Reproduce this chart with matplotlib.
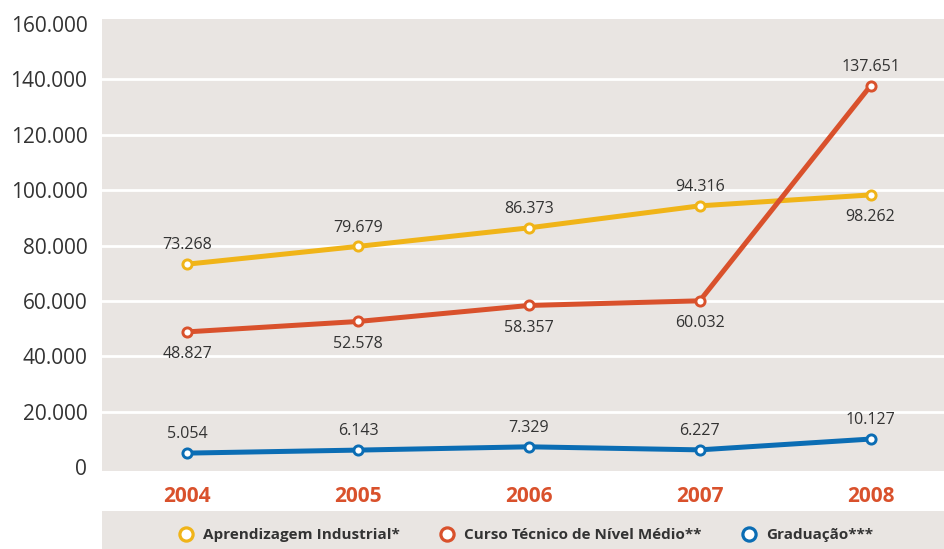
import matplotlib
matplotlib.use("Agg")
import matplotlib.pyplot as plt
from matplotlib.lines import Line2D
from matplotlib.patches import Rectangle
from matplotlib.ticker import FuncFormatter

years = [2004, 2005, 2006, 2007, 2008]
aprendizagem = [73268, 79679, 86373, 94316, 98262]
curso_tecnico = [48827, 52578, 58357, 60032, 137651]
graduacao = [5054, 6143, 7329, 6227, 10127]
series_names = ["Aprendizagem Industrial*", "Curso Técnico de Nível Médio**", "Graduação***"]
y_ticks = [0, 20000, 40000, 60000, 80000, 100000, 120000, 140000, 160000]

YELLOW = "#F0B418"
RED = "#D9512C"
BLUE = "#0B6DB4"
BG = "#E9E5E2"
TEXT = "#333333"

plt.rcParams["font.family"] = ["Open Sans", "DejaVu Sans"]


def fmt(v):
    return f"{v:,.0f}".replace(",", ".")


fig = plt.figure(figsize=(9.44, 5.49), dpi=100)
ax = fig.add_axes([0.108, 0.1426, 0.892, 0.8228])
ax.set_facecolor(BG)
for s in ax.spines.values():
    s.set_visible(False)

ax.set_xlim(2003.5, 2008.43)
ax.set_ylim(-1300, 161770)
ax.set_yticks(y_ticks)
ax.yaxis.set_major_formatter(FuncFormatter(lambda v, p: fmt(v)))
ax.set_xticks(years)
ax.set_xticklabels([str(y) for y in years])
ax.tick_params(axis="y", length=0, pad=10.5, labelsize=15, labelcolor=TEXT)
ax.tick_params(axis="x", length=0, pad=11, labelsize=15, labelcolor=RED)
for lab in ax.get_xticklabels():
    lab.set_fontweight("bold")
ax.grid(axis="y", color="white", linewidth=2)
ax.set_axisbelow(True)
grid = ax.yaxis.get_gridlines()
grid[0].set_visible(False)
grid[-1].set_visible(False)

marker_kw = dict(marker="o", markersize=6.6, markerfacecolor="white", markeredgewidth=2.1)
series = [(aprendizagem, YELLOW), (curso_tecnico, RED), (graduacao, BLUE)]
for vals, col in series:
    ax.plot(years, vals, color=col, linewidth=3.6, markeredgecolor=col, zorder=3,
            solid_capstyle="round", **marker_kw)

# value labels: above (+1) or below (-1) each marker
placement = [
    [1, 1, 1, 1, -1],
    [-1, -1, -1, -1, 1],
    [1, 1, 1, 1, 1],
]
for (vals, col), pos in zip(series, placement):
    for x, v, p in zip(years, vals, pos):
        ax.annotate(fmt(v), (x, v), xytext=(0, 13.5 if p > 0 else -16),
                    textcoords="offset points", ha="center", va="center",
                    fontsize=11.5, color=TEXT)

# legend band
fig.patches.append(Rectangle((0.108, 0.0), 0.892, 0.069, transform=fig.transFigure,
                             facecolor=BG, edgecolor="none", zorder=0))
handles = [Line2D([], [], linestyle="none", marker="o", markersize=9.5,
                  markerfacecolor="white", markeredgewidth=2.3, markeredgecolor=c)
           for c in (YELLOW, RED, BLUE)]
leg = fig.legend(handles, series_names, loc="center", bbox_to_anchor=(0.557, 0.0255),
                 ncol=3, frameon=False, handlelength=1.0, handletextpad=0.6,
                 columnspacing=2.6, borderpad=0, borderaxespad=0,
                 prop={"family": ["Open Sans", "DejaVu Sans"], "weight": "bold", "size": 11})
for t in leg.get_texts():
    t.set_color(TEXT)

fig.savefig("out.png", dpi=100)
